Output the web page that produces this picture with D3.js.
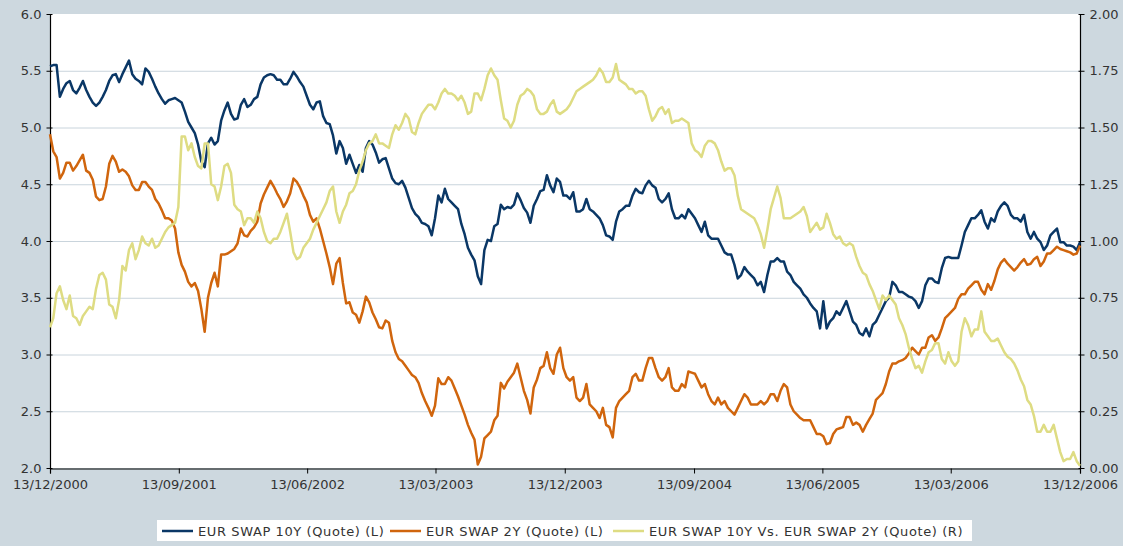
<!DOCTYPE html>
<html><head><meta charset="utf-8">
<script src="https://cdn.jsdelivr.net/npm/d3@7/dist/d3.min.js"></script>
<style>
html,body{margin:0;padding:0;background:#CDD8DF;}
svg{display:block;}
text{font-family:"DejaVu Sans",Verdana,sans-serif;fill:#333;}
</style></head>
<body>
<svg id="chart" width="1123" height="546"></svg>
<script>
// Weekly samples starting 13/12/2000 (314 weeks, last = 13/12/2006)
const startDate = "13/12/2000";
const stepDays = 7;
const xTickLabels = ["13/12/2000","13/09/2001","13/06/2002","13/03/2003","13/12/2003","13/09/2004","13/06/2005","13/03/2006","13/12/2006"];
const leftTicks = [2.0,2.5,3.0,3.5,4.0,4.5,5.0,5.5,6.0];
const rightTicks = [0,0.25,0.5,0.75,1.0,1.25,1.5,1.75,2.0];
const seriesNames = ["EUR SWAP 10Y (Quote) (L)","EUR SWAP 2Y (Quote) (L)","EUR SWAP 10Y Vs. EUR SWAP 2Y (Quote) (R)"];

const swap10y = [
5.54,5.55,5.55,5.27,5.34,5.39,5.41,5.33,5.30,5.35,
5.41,5.33,5.27,5.22,5.19,5.22,5.27,5.33,5.41,5.46,
5.47,5.40,5.47,5.53,5.59,5.47,5.43,5.41,5.38,5.52,
5.49,5.43,5.36,5.30,5.25,5.21,5.24,5.25,5.26,5.24,
5.22,5.14,5.05,5.00,4.95,4.85,4.70,4.65,4.86,4.91,
4.85,4.88,5.06,5.15,5.22,5.12,5.07,5.08,5.20,5.25,
5.18,5.20,5.25,5.27,5.38,5.44,5.46,5.47,5.46,5.42,
5.42,5.38,5.38,5.43,5.49,5.45,5.40,5.36,
5.28,5.20,5.16,5.22,5.23,5.10,5.04,5.03,4.93,4.77,
4.88,4.82,4.68,4.76,4.68,4.60,4.67,4.61,4.82,4.88,
4.85,4.78,4.69,4.72,4.73,4.64,4.55,4.51,4.50,4.53,
4.47,4.38,4.29,4.24,4.21,4.16,4.15,4.13,4.05,4.20,
4.40,4.34,4.46,4.37,4.34,4.31,4.28,4.15,4.06,3.94,
3.88,3.83,3.69,3.62,3.92,4.01,4.00,4.13,4.15,4.32,
4.28,4.30,4.29,4.32,4.42,4.36,4.29,4.25,4.16,4.31,
4.37,4.44,4.45,4.58,4.49,4.43,4.55,4.52,
4.40,4.40,4.37,4.43,4.26,4.26,4.28,4.37,4.28,4.26,
4.23,4.20,4.14,4.05,4.04,4.01,4.17,4.26,4.28,4.31,
4.31,4.40,4.46,4.43,4.42,4.49,4.53,4.49,4.47,4.37,
4.34,4.37,4.42,4.28,4.20,4.20,4.23,4.20,4.28,4.24,
4.20,4.14,4.08,4.17,4.05,4.02,4.02,4.02,3.96,3.90,
3.88,3.88,3.79,3.67,3.70,3.77,3.73,3.70,3.67,3.61,
3.64,3.55,3.70,3.82,3.82,3.85,3.82,3.82,3.73,3.70,
3.64,3.61,3.58,3.53,3.50,3.45,3.41,3.38,
3.23,3.47,3.23,3.29,3.32,3.38,3.35,3.41,3.47,3.38,
3.29,3.26,3.19,3.17,3.23,3.16,3.26,3.29,3.35,3.41,
3.47,3.50,3.64,3.61,3.55,3.55,3.53,3.51,3.50,3.47,
3.41,3.47,3.61,3.67,3.67,3.64,3.63,3.76,3.85,3.86,
3.85,3.85,3.85,3.96,4.08,4.14,4.20,4.20,4.23,4.27,
4.17,4.11,4.20,4.17,4.26,4.31,4.34,4.31,4.23,4.20,
4.20,4.17,4.23,4.08,4.02,4.08,4.02,3.99,3.92,3.96,
4.05,4.08,4.11,3.99,3.99,3.96,3.96,3.95,3.92,3.99];

const swap2y = [
4.94,4.79,4.74,4.55,4.60,4.69,4.69,4.62,4.66,4.71,
4.76,4.62,4.60,4.54,4.39,4.36,4.37,4.48,4.68,4.75,
4.70,4.61,4.63,4.61,4.57,4.49,4.45,4.45,4.52,4.52,
4.48,4.45,4.37,4.33,4.27,4.20,4.20,4.18,4.11,3.90,
3.79,3.73,3.64,3.60,3.63,3.56,3.40,3.20,3.50,3.63,
3.72,3.60,3.88,3.88,3.89,3.91,3.93,3.98,4.11,4.05,
4.04,4.09,4.12,4.17,4.33,4.41,4.47,4.53,4.48,4.42,
4.37,4.30,4.35,4.42,4.55,4.52,4.47,4.40,
4.34,4.23,4.17,4.20,4.11,4.00,3.89,3.77,3.62,3.80,
3.85,3.63,3.45,3.46,3.37,3.35,3.28,3.38,3.51,3.46,
3.37,3.31,3.24,3.23,3.30,3.28,3.12,3.02,2.96,2.94,
2.90,2.86,2.82,2.80,2.75,2.66,2.59,2.53,2.46,2.55,
2.79,2.74,2.74,2.80,2.77,2.70,2.63,2.55,2.47,2.38,
2.31,2.25,2.03,2.10,2.26,2.29,2.32,2.42,2.46,2.75,
2.70,2.76,2.80,2.84,2.92,2.80,2.68,2.60,2.48,2.71,
2.78,2.88,2.90,3.02,2.88,2.83,3.00,3.06,
2.88,2.80,2.77,2.80,2.62,2.59,2.62,2.74,2.56,2.53,
2.50,2.44,2.53,2.38,2.36,2.27,2.53,2.59,2.62,2.65,
2.68,2.80,2.83,2.77,2.77,2.88,2.97,2.97,2.88,2.80,
2.77,2.80,2.88,2.71,2.68,2.68,2.74,2.71,2.85,2.84,
2.83,2.77,2.71,2.74,2.65,2.59,2.56,2.62,2.56,2.59,
2.53,2.50,2.47,2.53,2.59,2.65,2.62,2.56,2.56,2.56,
2.59,2.56,2.59,2.65,2.65,2.59,2.68,2.74,2.71,2.56,
2.50,2.47,2.44,2.42,2.42,2.42,2.36,2.30,
2.30,2.28,2.21,2.22,2.30,2.34,2.35,2.36,2.45,2.45,
2.38,2.40,2.38,2.32,2.38,2.43,2.48,2.60,2.63,2.66,
2.74,2.85,2.92,2.92,2.94,2.95,2.97,3.01,3.06,3.03,
3.00,3.06,3.06,3.15,3.17,3.12,3.15,3.23,3.32,3.35,
3.38,3.41,3.49,3.53,3.53,3.58,3.61,3.64,3.64,3.57,
3.53,3.62,3.57,3.65,3.75,3.81,3.84,3.80,3.77,3.74,
3.77,3.81,3.84,3.79,3.80,3.84,3.86,3.78,3.82,3.89,
3.89,3.92,3.95,3.93,3.92,3.91,3.90,3.88,3.89,3.96];

const spread = [
0.62,0.66,0.77,0.80,0.74,0.70,0.76,0.67,0.66,0.63,
0.67,0.69,0.71,0.70,0.79,0.85,0.86,0.83,0.72,0.71,
0.66,0.74,0.89,0.87,0.96,0.99,0.92,0.96,1.02,0.99,
0.98,1.01,0.97,0.98,1.01,1.04,1.06,1.07,1.08,1.15,
1.46,1.46,1.40,1.43,1.37,1.33,1.32,1.43,1.43,1.25,
1.24,1.18,1.24,1.33,1.34,1.30,1.16,1.14,1.13,1.07,
1.10,1.10,1.08,1.13,1.10,1.04,1.00,0.99,1.01,1.01,
1.04,1.08,1.12,1.04,0.95,0.92,0.93,0.97,
0.99,1.01,1.05,1.08,1.11,1.14,1.17,1.22,1.24,1.13,
1.08,1.13,1.16,1.21,1.22,1.25,1.31,1.35,1.40,1.43,
1.44,1.47,1.43,1.43,1.42,1.41,1.47,1.51,1.49,1.52,
1.56,1.54,1.48,1.47,1.52,1.56,1.58,1.60,1.60,1.58,
1.61,1.65,1.67,1.65,1.65,1.64,1.62,1.64,1.61,1.56,
1.57,1.65,1.65,1.62,1.67,1.73,1.76,1.73,1.71,1.62,
1.54,1.53,1.50,1.53,1.60,1.64,1.65,1.67,1.66,1.64,
1.58,1.56,1.56,1.57,1.60,1.62,1.57,1.56,
1.57,1.58,1.60,1.63,1.66,1.67,1.68,1.69,1.70,1.71,
1.73,1.76,1.74,1.70,1.70,1.72,1.78,1.71,1.70,1.69,
1.67,1.67,1.65,1.66,1.66,1.64,1.58,1.53,1.55,1.58,
1.59,1.56,1.58,1.52,1.53,1.53,1.54,1.53,1.52,1.43,
1.40,1.39,1.37,1.42,1.44,1.44,1.43,1.40,1.35,1.31,
1.32,1.32,1.29,1.20,1.14,1.13,1.12,1.11,1.10,1.07,
1.03,0.97,1.05,1.14,1.19,1.24,1.19,1.10,1.10,1.10,
1.11,1.12,1.13,1.15,1.11,1.04,1.06,1.08,
1.05,1.06,1.12,1.08,1.03,1.01,1.02,0.99,0.98,0.99,
0.98,0.93,0.89,0.86,0.85,0.81,0.78,0.74,0.70,0.76,
0.74,0.76,0.74,0.72,0.66,0.63,0.59,0.53,0.48,0.44,
0.45,0.42,0.47,0.51,0.52,0.55,0.55,0.48,0.46,0.51,
0.47,0.45,0.47,0.60,0.66,0.63,0.58,0.61,0.61,0.69,
0.60,0.58,0.56,0.56,0.57,0.54,0.51,0.49,0.48,0.46,
0.43,0.39,0.36,0.30,0.28,0.23,0.16,0.16,0.19,0.16,
0.16,0.19,0.13,0.07,0.03,0.04,0.04,0.07,0.03,0.01];

const colors = ["#0A3766","#D0650D","#DEDC83"];

const parseDMY = d3.timeParse("%d/%m/%Y");
const t0 = parseDMY(startDate);
const dates = swap10y.map((_, i) => d3.timeDay.offset(t0, i * stepDays));

const svg = d3.select("#chart");
const L = 50, R = 1080, T = 14, B = 468;

svg.append("rect").attr("x", L).attr("y", T).attr("width", R - L).attr("height", B - T).attr("fill", "#fff");

const x = d3.scaleTime().domain([parseDMY(xTickLabels[0]), parseDMY(xTickLabels[xTickLabels.length-1])]).range([L, R]);
const yL = d3.scaleLinear().domain([2, 6]).range([B, T]);
const yR = d3.scaleLinear().domain([0, 2]).range([B, T]);

// gridlines
svg.append("g").selectAll("line").data(leftTicks.slice(1, -1)).join("line")
  .attr("x1", L).attr("x2", R).attr("y1", d => yL(d) + 0.5).attr("y2", d => yL(d) + 0.5)
  .attr("stroke", "#C9D4DC").attr("stroke-width", 1);

const fmt1 = d3.format(".1f"), fmt2 = d3.format(".2f");

const gL = svg.append("g").attr("transform", `translate(${L + 0.5},0)`)
  .call(d3.axisLeft(yL).tickValues(leftTicks).tickFormat(fmt1).tickSize(4).tickPadding(5));
const gR = svg.append("g").attr("transform", `translate(${R + 0.5},0)`)
  .call(d3.axisRight(yR).tickValues(rightTicks).tickFormat(fmt2).tickSize(4).tickPadding(5));
const gB = svg.append("g").attr("transform", `translate(0,${B + 0.5})`)
  .call(d3.axisBottom(x).tickValues(xTickLabels.map(parseDMY)).tickFormat(d3.timeFormat("%d/%m/%Y")).tickSize(5).tickPadding(6));

[gL, gR, gB].forEach(g => {
  g.select(".domain").attr("stroke", "#000").attr("stroke-width", 1.2);
  g.selectAll(".tick line").attr("stroke", "#000");
  g.selectAll("text").attr("font-size", 13).attr("fill", "#333").attr("font-family", "DejaVu Sans, Verdana, sans-serif");
});
gL.selectAll(".tick line").attr("x1", 2);
gR.selectAll(".tick line").attr("x1", -2);
gL.select(".domain").attr("d", `M0,${T}V${B}`);
gR.select(".domain").attr("d", `M0,${T}V${B}`);

// lines
const lineL = d3.line().x((d, i) => x(dates[i])).y(d => yL(d));
const lineR = d3.line().x((d, i) => x(dates[i])).y(d => yR(d));
const plot = svg.append("g");
plot.append("path").datum(swap10y).attr("d", lineL).attr("fill", "none").attr("stroke", colors[0]).attr("stroke-width", 2.5).attr("stroke-linejoin", "round");
plot.append("path").datum(swap2y).attr("d", lineL).attr("fill", "none").attr("stroke", colors[1]).attr("stroke-width", 2.5).attr("stroke-linejoin", "round");
plot.append("path").datum(spread).attr("d", lineR).attr("fill", "none").attr("stroke", colors[2]).attr("stroke-width", 2.5).attr("stroke-linejoin", "round");

// legend
const lg = svg.append("g");
lg.append("rect").attr("x", 157).attr("y", 520).attr("width", 815).attr("height", 21).attr("fill", "#fff");
const legX = [162, 390, 613];
seriesNames.forEach((n, i) => {
  lg.append("line").attr("x1", legX[i]).attr("x2", legX[i] + 31).attr("y1", 531).attr("y2", 531)
    .attr("stroke", colors[i]).attr("stroke-width", 2.5);
  lg.append("text").attr("x", legX[i] + 36).attr("y", 535.5).attr("font-size", 13)
    .attr("letter-spacing", 0.6).text(n);
});
</script>
</body></html>
